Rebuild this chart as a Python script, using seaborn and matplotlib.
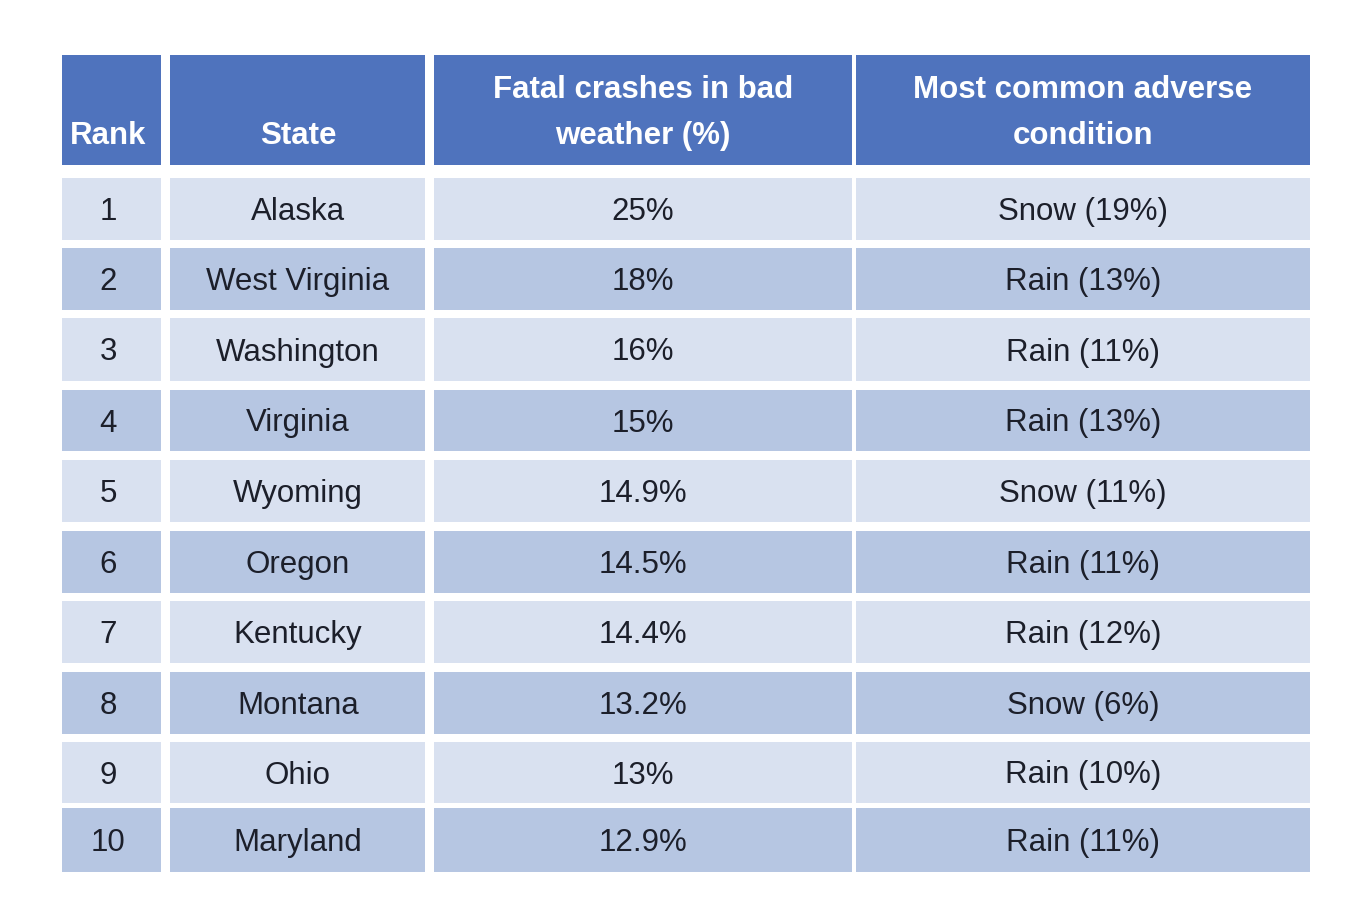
import matplotlib
matplotlib.use('Agg')
import matplotlib.pyplot as plt
from matplotlib.patches import Rectangle
import seaborn as sns

# table data
ranks = [1, 2, 3, 4, 5, 6, 7, 8, 9, 10]
states = ['Alaska', 'West Virginia', 'Washington', 'Virginia', 'Wyoming',
          'Oregon', 'Kentucky', 'Montana', 'Ohio', 'Maryland']
bad_weather = ['25%', '18%', '16%', '15%', '14.9%', '14.5%', '14.4%', '13.2%', '13%', '12.9%']
conditions = ['Snow (19%)', 'Rain (13%)', 'Rain (11%)', 'Rain (13%)', 'Snow (11%)',
              'Rain (11%)', 'Rain (12%)', 'Snow (6%)', 'Rain (10%)', 'Rain (11%)']
headers = [['Rank'], ['State'], ['Fatal crashes in bad', 'weather (%)'],
           ['Most common adverse', 'condition']]

# layout in pixels
col_left = [62, 170, 434, 856]
col_right = [161, 425, 852, 1310]
text_x = [108, 298, 643, 1083]
head_top, head_bottom = 55, 165
row_top = [178, 248, 318, 390, 460, 531, 601, 672, 742, 808]
row_bottom = [240, 310, 381, 451, 522, 593, 663, 734, 803, 872]

head_color = '#4f73bd'
light = '#d9e1f0'
dark = '#b6c6e2'
text_color = '#1c1f2a'

sns.set_theme(style='white')
plt.rcParams['font.family'] = ['Liberation Sans', 'DejaVu Sans']

fig = plt.figure(figsize=(13.6, 9.24), dpi=100)
ax = fig.add_axes([0, 0, 1, 1])
ax.set_xlim(0, 1360)
ax.set_ylim(924, 0)
ax.axis('off')

# header
for c, lines in enumerate(headers):
    ax.add_patch(Rectangle((col_left[c], head_top), col_right[c] - col_left[c],
                           head_bottom - head_top, color=head_color, lw=0))
    ys = [136] if len(lines) == 1 else [90, 136]
    for line, y in zip(lines, ys):
        ax.text(text_x[c], y, line, ha='center', va='center', color='white',
                fontsize=22.5, fontweight='bold')

# body
columns = [[str(r) for r in ranks], states, bad_weather, conditions]
for i in range(len(ranks)):
    fill = light if i % 2 == 0 else dark
    cy = (row_top[i] + row_bottom[i]) / 2 + 3
    for c, col in enumerate(columns):
        ax.add_patch(Rectangle((col_left[c], row_top[i]), col_right[c] - col_left[c],
                               row_bottom[i] - row_top[i], color=fill, lw=0))
        ax.text(text_x[c], cy, col[i], ha='center', va='center',
                color=text_color, fontsize=22.5)

fig.savefig('out.png', dpi=100, facecolor='white')
